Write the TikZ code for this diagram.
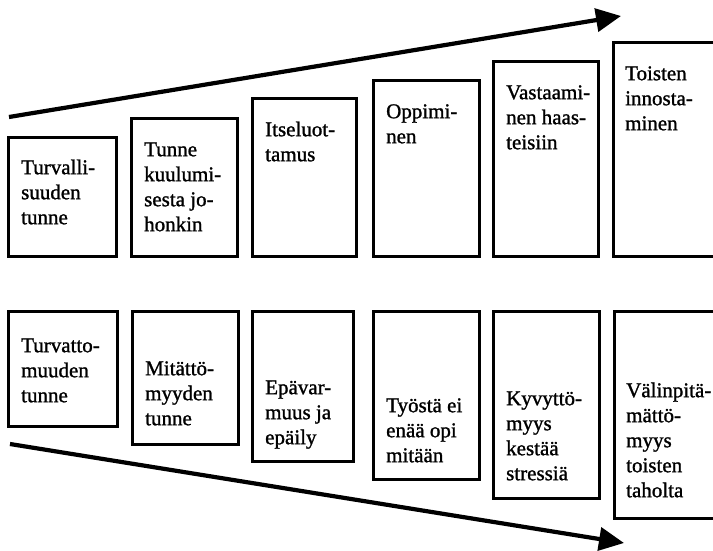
\documentclass[tikz,border=0pt]{standalone}
\usepackage{fontspec}
\setmainfont{Liberation Serif}[FakeBold=1.2]
\usetikzlibrary{arrows.meta}
\begin{document}
\begin{tikzpicture}[x=1pt,y=-1pt,
  stepbox/.style={draw=black, line width=3pt, fill=white, anchor=north west, inner sep=0pt, outer sep=0pt},
  lbl/.style={anchor=north west, align=left, inner sep=0pt, font=\fontsize{21}{25}\selectfont},
  bigarrow/.style={line width=4.2pt, -{Triangle[length=25pt,width=23pt]}}]
\useasboundingbox (0,0) rectangle (713,551);
\clip (0,0) rectangle (713,551);
% top row
\node[stepbox, minimum width=108pt, minimum height=119pt] (b1) at (8,137) {};
\node[stepbox, minimum width=106pt, minimum height=137pt] (b2) at (131,119) {};
\node[stepbox, minimum width=104pt, minimum height=157pt] (b3) at (252,99) {};
\node[stepbox, minimum width=106pt, minimum height=175pt] (b4) at (373,81) {};
\node[stepbox, minimum width=105pt, minimum height=194pt] (b5) at (493,62) {};
\node[stepbox, minimum width=117pt, minimum height=213pt] (b6) at (613,43) {};
% bottom row
\node[stepbox, minimum width=109pt, minimum height=115pt] (c1) at (8,311) {};
\node[stepbox, minimum width=106pt, minimum height=133pt] (c2) at (132,311) {};
\node[stepbox, minimum width=101pt, minimum height=150pt] (c3) at (252,311) {};
\node[stepbox, minimum width=106pt, minimum height=168pt] (c4) at (373,311) {};
\node[stepbox, minimum width=106pt, minimum height=187pt] (c5) at (493,311) {};
\node[stepbox, minimum width=116pt, minimum height=207pt] (c6) at (614,311) {};
% top texts
\node[lbl] (tb1) at ([shift={(13,19.5)}]b1.north west) {\strut Turvalli-\\suuden\\tunne};
\node[lbl] (tb2) at ([shift={(13,19.5)}]b2.north west) {\strut Tunne\\kuulumi-\\sesta jo-\\honkin};
\node[lbl] (tb3) at ([shift={(13,19.5)}]b3.north west) {\strut Itseluot-\\tamus};
\node[lbl] (tb4) at ([shift={(13,19.5)}]b4.north west) {\strut Oppimi-\\nen};
\node[lbl] (tb5) at ([shift={(13,19.5)}]b5.north west) {\strut Vastaami-\\nen haas-\\teisiin};
\node[lbl] (tb6) at ([shift={(12,19.5)}]b6.north west) {\strut Toisten\\innosta-\\minen};
% bottom texts
\node[lbl] (tc1) at ([shift={(13,23.5)}]c1.north west) {\strut Turvatto-\\muuden\\tunne};
\node[lbl] (tc2) at ([shift={(13,46.5)}]c2.north west) {\strut Mitättö-\\myyden\\tunne};
\node[lbl] (tc3) at ([shift={(13,65.5)}]c3.north west) {\strut Epävar-\\muus ja\\epäily};
\node[lbl] (tc4) at ([shift={(13,83.5)}]c4.north west) {\strut Työstä ei\\enää opi\\mitään};
\node[lbl] (tc5) at ([shift={(13,76.5)}]c5.north west) {\strut Kyvyttö-\\myys\\kestää\\stressiä};
\node[lbl] (tc6) at ([shift={(12,68.5)}]c6.north west) {\strut Välinpitä-\\mättö-\\myys\\toisten\\taholta};
% arrows
\coordinate (ta) at (9,117);
\coordinate (tz) at (621,16);
\coordinate (ba) at (10,444);
\coordinate (bz) at (624,543);
\draw[bigarrow] (ta) -- (tz);
\draw[bigarrow] (ba) -- (bz);
\end{tikzpicture}
\end{document}
